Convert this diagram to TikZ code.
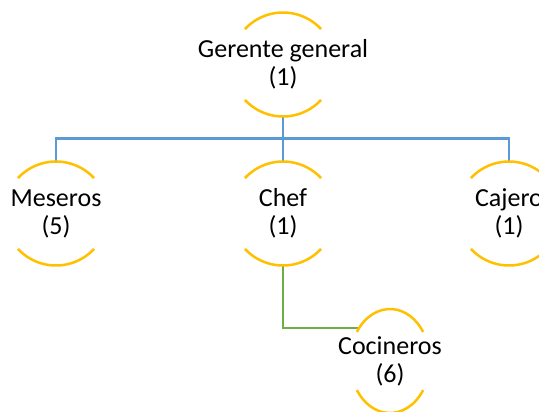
\documentclass[tikz,border=0pt]{standalone}
\usepackage{fontspec}
\setmainfont{Carlito}
\usepackage{tikz}
\usetikzlibrary{calc}
\definecolor{ringorange}{RGB}{255,192,0}
\definecolor{linkblue}{RGB}{91,155,213}
\definecolor{linkgreen}{RGB}{112,173,71}

\begin{document}
\begin{tikzpicture}[x=1pt,y=1pt,yscale=-1,xscale=1,
  post/.style={minimum width=104pt,minimum height=104pt,inner sep=0pt,align=center,font=\fontsize{26}{28}\selectfont},
  ring/.style={draw=ringorange,line width=2.5pt},
  link/.style={draw=linkblue,line width=2.4pt},
  sublink/.style={draw=linkgreen,line width=2.4pt}]
\useasboundingbox (0,0) rectangle (539,412);
\clip (0,0) rectangle (539,412);

% Text Node
\node[post] (gg) at (283,64.5) {Gerente general\\(1)};
% Text Node
\node[post] (me) at (56,213.5) {Meseros\\(5)};
% Text Node
\node[post] (ch) at (283,213.5) {Chef\\(1)};
% Text Node
\node[post] (ca) at (509,213.5) {Cajero\\(1)};
% Text Node
\node[post] (co) at (390,361) {Cocineros\\(6)};
\coordinate (co-in) at ($(co.center)+(-32,-33)$);

%Straight Lines
\foreach \n in {me,ch,ca}
  \draw[link] (gg.south) -- ++(0,22) -| (\n.north);
\draw[sublink] (ch.south) |- (co-in);

%Arcs
\foreach \n in {gg,me,ch,ca}{
  \draw[ring] ($(\n.center)+(223:52)$) arc (223:317:52);
  \draw[ring] ($(\n.center)+(43:52)$) arc (43:137:52);
}
\draw[ring] ($(co.center)+(214:40 and 52)$) arc[start angle=214,end angle=326,x radius=40,y radius=52];
\draw[ring] ($(co.center)+(34:40 and 52)$) arc[start angle=34,end angle=146,x radius=40,y radius=52];
\end{tikzpicture}
\end{document}
